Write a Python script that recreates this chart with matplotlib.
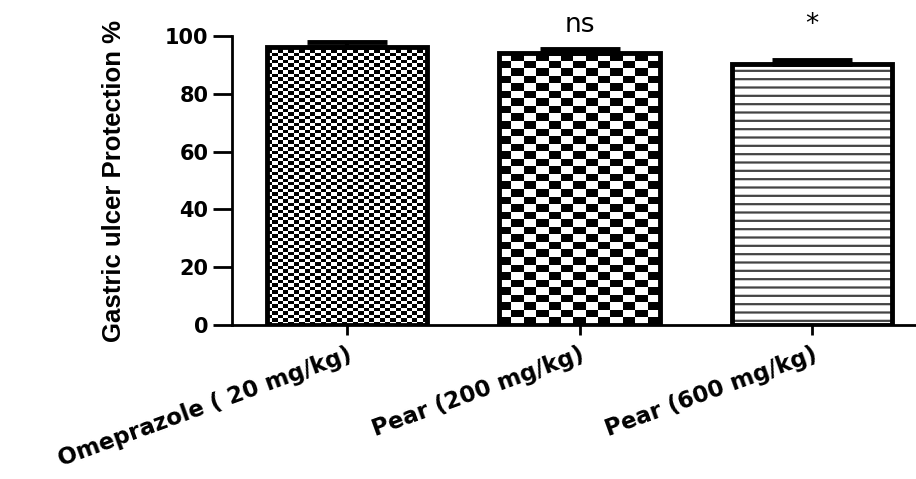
import matplotlib
matplotlib.use("Agg")
import matplotlib.pyplot as plt
import numpy as np

groups = ["Omeprazole ( 20 mg/kg)", "Pear (200 mg/kg)", "Pear (600 mg/kg)"]
protection = [96.3, 94.1, 90.2]
sem = [1.5, 1.3, 1.4]
marks = ["", "ns", "*"]

plt.rcParams["font.family"] = ["DejaVu Sans"]
plt.rcParams["hatch.linewidth"] = 1.6

fig = plt.figure(figsize=(9.16, 4.79), dpi=100)
ax = fig.add_axes([232 / 916, 154 / 479, 1 - 232 / 916, (325 - 36) / 479])

x = np.arange(len(groups))
w = 0.69

# white base, then pattern, then the black outline on top
base = ax.bar(x, protection, width=w, color="white", edgecolor="none", zorder=1)

# checker patterns: (columns, rows) per bar
checks = [(30, 80), (13, 36)]
for i, (nc, nr) in enumerate(checks):
    board = np.indices((nr, nc)).sum(axis=0) % 2
    im = ax.imshow(board, cmap="gray_r", interpolation="nearest", aspect="auto",
                   extent=[x[i] - w / 2, x[i] + w / 2, 0, protection[i]], zorder=2)
    im.set_clip_path(base[i])

# horizontal stripes on the last bar
ax.bar(x[2], protection[2], width=w, color="none", edgecolor="#444444",
       linewidth=0, hatch="--", zorder=2)
ax.bar(x, protection, width=w, fill=False, edgecolor="black", linewidth=3.5, zorder=3)

ax.errorbar(x, protection, yerr=[np.zeros(3), sem], fmt="none", ecolor="black",
            elinewidth=3, capsize=29, capthick=3.5, zorder=4)

for i, m in enumerate(marks):
    if m:
        ax.text(x[i], 99.3, m, ha="center", va="bottom", fontsize=19,
                clip_on=False)

ax.set_xlim(-0.495, 2.447)
ax.set_ylim(0, 100)
ax.set_yticks([0, 20, 40, 60, 80, 100])
ax.set_xticks(x)
ax.set_xticklabels(groups, rotation=20, ha="right", rotation_mode="anchor",
                   fontsize=16.5, fontweight="bold")
for lab in ax.get_yticklabels():
    lab.set_fontweight("bold")
ax.tick_params(axis="y", labelsize=15, length=14, width=2, pad=3)
ax.tick_params(axis="x", length=7, width=2, pad=6)

for s in ["top", "right"]:
    ax.spines[s].set_visible(False)
ax.spines["left"].set_linewidth(2)
ax.spines["bottom"].set_linewidth(2)

ax.set_ylabel("Gastric ulcer Protection %", fontsize=18.5, fontweight="bold",
              family=["Liberation Sans", "DejaVu Sans"])
ax.yaxis.set_label_coords(-0.155, 0.5)

fig.savefig("out.png", dpi=100)
